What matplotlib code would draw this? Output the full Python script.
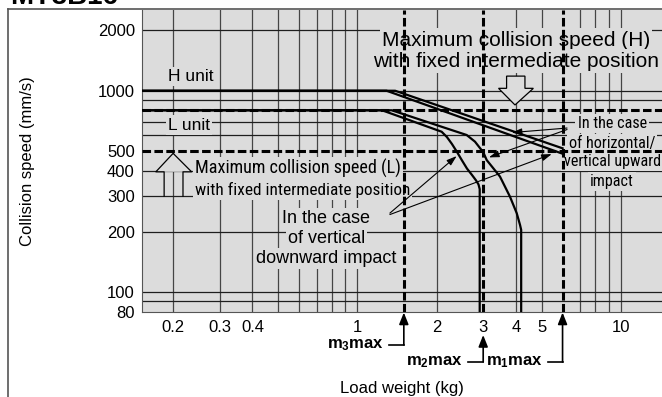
import matplotlib
matplotlib.use('Agg')
import matplotlib.pyplot as plt
from matplotlib.lines import Line2D
from matplotlib.patches import Polygon

plt.rcParams['font.family'] = ['Liberation Sans', 'DejaVu Sans']
plt.rcParams['mathtext.fontset'] = 'custom'
plt.rcParams['mathtext.rm'] = 'Liberation Sans'
plt.rcParams['mathtext.bf'] = 'Liberation Sans:bold'
plt.rcParams['mathtext.it'] = 'Liberation Sans:italic'

NARROW = ['Roboto Condensed', 'DejaVu Sans']
BG = '#dcdcdc'

# ---------------- data ----------------
x_limits = [0.152, 14.3]
y_limits = [80, 2530]
x_ticks = [0.2, 0.3, 0.4, 1, 2, 3, 4, 5, 10]
x_tick_labels = ['0.2', '0.3', '0.4', '1', '2', '3', '4', '5', '10']
y_ticks = [80, 100, 200, 300, 400, 500, 1000, 2000]
y_tick_labels = ['80', '100', '200', '300', '400', '500', '1000', '2000']
x_grid = [0.2, 0.3, 0.4, 0.5, 0.6, 0.7, 0.8, 0.9, 1, 2, 4, 5, 7, 8, 9, 10]
y_grid = [90, 100, 200, 300, 400, 600, 700, 900, 1000, 2000]

m_max_values = [1.5, 3, 6]          # m3max, m2max, m1max
m_max_labels = [r'$\mathbf{m_3max}$', r'$\mathbf{m_2max}$', r'$\mathbf{m_1max}$']
max_speed_H = 800
max_speed_L = 500

# H unit: vertical downward / horizontal-upward
h_down_x = [0.1, 1.29, 6.0]
h_down_y = [1000, 1000, 487]
h_horiz_x = [0.1, 1.39, 6.0]
h_horiz_y = [1000, 1000, 518]

# L unit: vertical downward / horizontal-upward
l_down_x = [0.1, 1.24, 2.087, 2.186, 2.284, 2.386, 2.493, 2.604, 2.720, 2.818, 2.879, 2.91, 2.91]
l_down_y = [800, 800, 626, 589, 544, 497, 451, 411, 382, 359, 343, 325, 70]
l_horiz_x = [0.1, 1.35, 2.597, 2.792, 3.002, 3.093, 3.474, 3.791, 4.020, 4.138, 4.18, 4.18]
l_horiz_y = [800, 800, 603, 559, 495, 453, 375, 298, 247, 216, 204, 70]

# pointer lines (from label to curve)
ptr_down_from = [(1.328, 247), (1.328, 243)]
ptr_down_to = [(2.379, 474), (5.458, 485)]
ptr_horiz_from = [(6.24, 653), (6.24, 642)]
ptr_horiz_to = [(3.85, 620), (3.155, 467)]

# hollow block arrows
arrowH_x = [3.68, 4.32, 4.32, 4.65, 3.96, 3.43, 3.68]
arrowH_y = [1182, 1182, 1028, 1028, 850, 1028, 1028]
arrowL_x = [0.1849, 0.1849, 0.172, 0.2, 0.235, 0.218, 0.218]
arrowL_y = [300, 396, 396, 489, 396, 396, 300]

# ---------------- figure ----------------
W, H = 662, 397
fig = plt.figure(figsize=(W / 100, H / 100), dpi=100)
ax_l, ax_r, ax_t, ax_b = 141.7, 662, 9.5, 311.8
ax = fig.add_axes([ax_l / W, 1 - ax_b / H, (ax_r - ax_l) / W, (ax_b - ax_t) / H])
ax.set_xscale('log')
ax.set_yscale('log')
ax.set_xlim(x_limits)
ax.set_ylim(y_limits)
ax.set_facecolor(BG)
ax.set_xticks(x_ticks, x_tick_labels)
ax.set_yticks(y_ticks, y_tick_labels)
ax.minorticks_off()
ax.tick_params(axis='both', length=0, labelsize=12)
ax.tick_params(axis='x', pad=6)
ax.tick_params(axis='y', pad=5)
for s in ['top', 'right']:
    ax.spines[s].set_visible(False)
for s in ['left', 'bottom']:
    ax.spines[s].set_color('#555555')
    ax.spines[s].set_linewidth(0.8)

for xv in x_grid:
    ax.axvline(xv, color='#454545', lw=0.9, zorder=1)
for yv in y_grid:
    ax.axhline(yv, color='#1e1e1e', lw=0.9, zorder=1)

# dashed limit lines
dash = (0, (2.8, 1.1))
ax.axhline(max_speed_H, color='black', lw=2.2, ls=dash, zorder=3)
ax.axhline(max_speed_L, color='black', lw=2.2, ls=dash, zorder=3)
for m in m_max_values:
    ax.axvline(m, color='black', lw=2.2, ls=dash, zorder=3)

# curves
for xs, ys in [(h_down_x, h_down_y), (h_horiz_x, h_horiz_y),
               (l_down_x, l_down_y), (l_horiz_x, l_horiz_y)]:
    ax.plot(xs, ys, color='black', lw=1.6, zorder=4, solid_joinstyle='miter')

# block arrows
ax.add_patch(Polygon(list(zip(arrowH_x, arrowH_y)), closed=True, facecolor=BG,
                     edgecolor='black', lw=0.9, zorder=1.8))
ax.add_patch(Polygon(list(zip(arrowL_x[2:5], arrowL_y[2:5])), closed=True, facecolor=BG,
                     edgecolor='none', zorder=1.8))
ax.plot(arrowL_x, arrowL_y, color='black', lw=0.9, zorder=1.9)

# texts
box = dict(facecolor=BG, edgecolor='none', pad=1.5)
ax.text(0.2334, 1173, 'H unit', fontsize=12.5, ha='center', va='center', bbox=box, zorder=2)
ax.text(0.2293, 676, 'L unit', fontsize=12.5, ha='center', va='center', bbox=box, zorder=2)
ax.text(3.995, 1784, 'Maximum collision speed (H)', fontsize=15, ha='center', va='center', bbox=box, zorder=2)
ax.text(3.98, 1404, 'with fixed intermediate position', fontsize=15, ha='center', va='center', bbox=box, zorder=2)
ax.text(0.2416, 412, 'Maximum collision speed (L)', family=NARROW, stretch='condensed',
        fontsize=13.1, ha='left', va='center', bbox=box, zorder=2)
ax.text(0.2416, 322, 'with fixed intermediate position', family=NARROW, stretch='condensed',
        fontsize=12.4, ha='left', va='center', bbox=box, zorder=2)
for t, yv in zip(['In the case', 'of vertical', 'downward impact'], [232, 184.5, 147]):
    ax.text(0.7627, yv, t, fontsize=13, ha='center', va='center', bbox=box, zorder=2)
for t, yv in zip(['In the case', 'of horizontal/', 'vertical upward', 'impact'], [689, 548, 444.5, 353.7]):
    ax.text(9.25, yv, t, family=NARROW, stretch='condensed', fontsize=11.6,
            ha='center', va='center', bbox=box, zorder=2)

ap = dict(arrowstyle='-|>,head_length=0.6,head_width=0.2', color='black', lw=0.8, shrinkA=0, shrinkB=0)
for f, t in zip(ptr_down_from, ptr_down_to):
    ax.annotate('', xy=t, xytext=f, arrowprops=ap, zorder=5)
for f, t in zip(ptr_horiz_from, ptr_horiz_to):
    ax.annotate('', xy=t, xytext=f, arrowprops=ap, zorder=5)

# axis labels
ax.set_xlabel('Load weight (kg)', fontsize=12)
ax.xaxis.set_label_coords(0.5, (ax_b - 388) / (ax_b - ax_t))
ax.xaxis.label.set_va('center')
ax.set_ylabel('Collision speed (mm/s)', fontsize=12)
ax.yaxis.set_label_coords((28 - ax_l) / (ax_r - ax_l), 0.5)
ax.yaxis.label.set_va('center')

# m max markers below the axis
tips_Y = [312.5, 335, 312.5]
bottoms_Y = [345, 362, 362]
for m, lab, ty, by in zip(m_max_values, m_max_labels, tips_Y, bottoms_Y):
    Xp = ax.transData.transform((m, 100))[0]
    ax.annotate('', xy=(Xp, H - ty), xycoords='figure pixels', xytext=(Xp, H - by),
                textcoords='figure pixels', annotation_clip=False,
                arrowprops=dict(arrowstyle='-|>,head_length=0.7,head_width=0.28',
                                color='black', lw=1.2, shrinkA=0, shrinkB=0))
    fig.add_artist(Line2D([Xp / W, (Xp - 15) / W], [1 - by / H, 1 - by / H],
                          color='black', lw=1.2, transform=fig.transFigure))
    fig.text((Xp - 20) / W, 1 - by / H, lab, ha='right', va='center', fontsize=12)

# frame and title
fig.add_artist(Line2D([8 / W, 8 / W], [0, 1 - 9 / H], color='#555555', lw=1.2, transform=fig.transFigure))
fig.add_artist(Line2D([8 / W, 1], [1 - 9 / H, 1 - 9 / H], color='#555555', lw=1.2, transform=fig.transFigure))
fig.text(10 / W, 1 - 4 / H, 'MY3B16', fontsize=20, fontweight='bold', ha='left', va='baseline')

fig.savefig('out.png', dpi=100)
